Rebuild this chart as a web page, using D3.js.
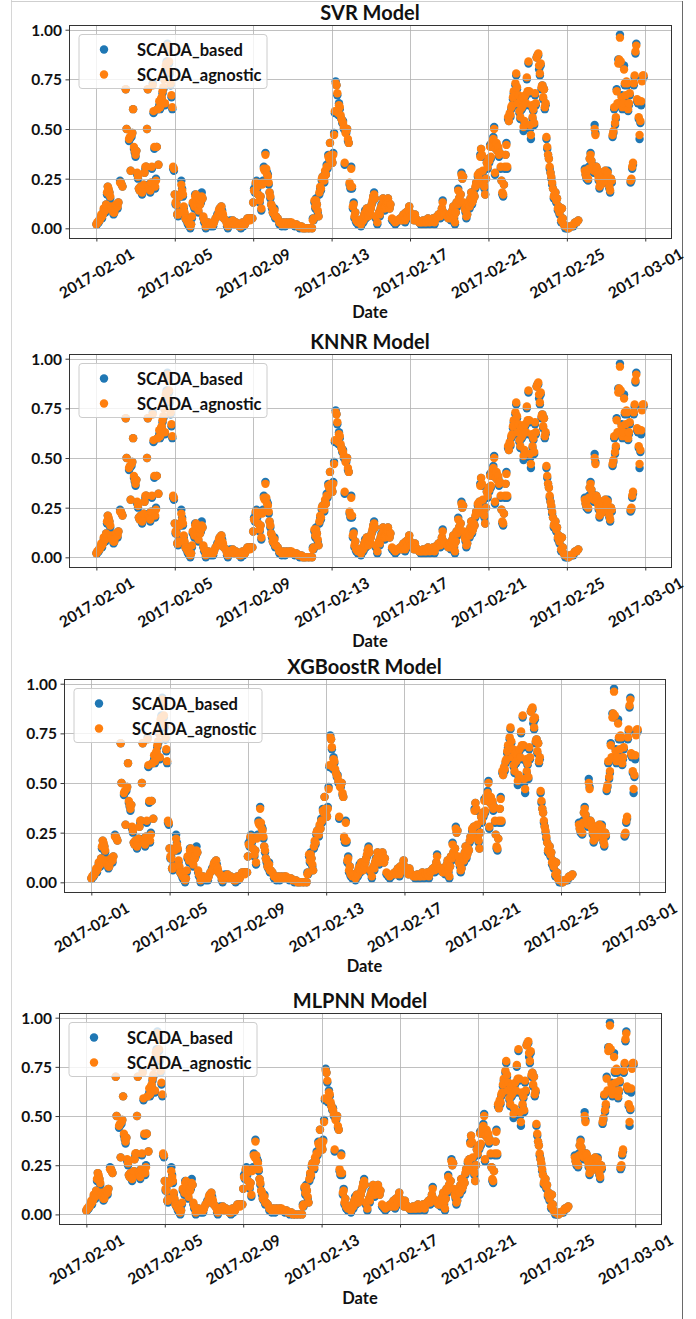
<!DOCTYPE html>
<html>
<head>
<meta charset="utf-8">
<script src="https://cdn.jsdelivr.net/npm/d3@7"></script>
<style>
  body { margin: 0; background: #fff; }
  svg { display: block; }
  text { font-family: Lato, "Open Sans", "DejaVu Sans", sans-serif; font-weight: 700; fill: #111; }
</style>
</head>
<body>
<svg id="chart" width="696" height="1319"></svg>
<script>
// ---- data ---------------------------------------------------------------
const modelTitles = ["SVR Model", "KNNR Model", "XGBoostR Model", "MLPNN Model"];
const seriesNames = ["SCADA_based", "SCADA_agnostic"];
const seriesColors = ["#1f77b4", "#ff7f0e"];
const xTickLabels = ["2017-02-01", "2017-02-05", "2017-02-09", "2017-02-13",
                     "2017-02-17", "2017-02-21", "2017-02-25", "2017-03-01"];
const yTickValues = [0, 0.25, 0.5, 0.75, 1.0];

// hourly samples, counted from 2017-02-01 00:00
const span = (a, b) => d3.range(a, b + 1);
const hours = [].concat(
  span(0, 27), [29, 30, 31, 32], [36, 37], span(40, 239),
  [241, 243, 245, 247, 249, 251, 253, 256, 260],
  span(264, 360), span(362, 586), [588, 590], span(598, 670)
);

// hours without a record in the evaluation set
const missingHours = [
  133, 136, 139, 141, 145, 147, 157, 159, 162, 165, 168, 170, 172, 174, 176, 178, 181, 183, 186, 189,
  221, 223, 226, 228, 230, 232, 234, 236, 238,
  319, 321, 323, 325, 343, 345, 363, 365, 367, 369, 371, 373, 377, 380,
  386, 388, 392, 394, 396, 398, 401, 403, 405, 409, 411, 413, 415, 418, 427, 429,
  573, 575, 577, 579, 581, 583, 585
];

const scadaBased = [
  // 0-27, 29-32
  .02,.02,.03,.03,.04,.05,.06,.05,.07,.09,.10,.08,.12,.17,.21,.19,.18,.15,.12,.10,.09,.07,.08,.10,.11,.12,.10,.13,
  .24,.23,.22,.21,
  // 36-37
  .70,.50,
  // 40-95
  .44,.45,.29,.46,.48,.60,.40,.38,.36,.39,
  .27,.25,.20,.19,.21,.20,.17,.19,.22,.28,
  .30,.31,.50,.70,.22,.21,.18,.23,.30,.73,
  .58,.40,.20,.25,.41,.60,.32,.62,.60,.63,
  .65,.68,.70,.75,.62,.80,.84,.93,.90,.83,
  .78,.72,.66,.60,.30,.29,
  // 96-191
  .17,.12,.13,.07,.06,.09,.17,.16,.24,.20,.16,.10,
  .07,.05,.04,.05,.02,.03,.01,.00,.02,.05,.12,.13,
  .10,.17,.16,.15,.10,.08,.14,.12,.13,.18,.15,.05,
  .03,.01,.00,.02,.01,.03,.02,.00,.01,.03,.02,.01,
  .03,.02,.05,.04,.07,.06,.08,.10,.07,.11,.09,.06,
  .05,.03,.04,.02,.01,.00,.00,.03,.04,.02,.03,.04,
  .01,.02,.00,.03,.01,.02,.00,.01,.02,.00,.01,.03,
  .01,.00,.02,.03,.04,.05,.04,.05,.05,.04,.05,.05,
  // 192-239
  .13,.20,.18,.22,.24,.20,.17,.23,.13,.16,.09,.23,
  .24,.31,.30,.38,.29,.28,.27,.22,.18,.15,.12,.10,
  .08,.07,.10,.05,.06,.04,.05,.03,.02,.03,.02,.01,
  .02,.03,.02,.01,.02,.03,.03,.02,.01,.03,.02,.02,
  // 241-260
  .02,.01,.02,.01,.00,.01,.00,.00,.00,
  // 264-311
  .00,.05,.04,.13,.10,.15,.12,.08,.06,.17,.20,.19,
  .24,.26,.25,.23,.28,.27,.32,.30,.37,.35,.43,.36,
  .34,.33,.38,.48,.58,.74,.72,.67,.57,.63,.60,.56,
  .55,.53,.54,.50,.32,.49,.48,.50,.44,.43,.22,.20,
  // 312-360
  .31,.20,.10,.13,.05,.08,.03,.06,.02,.01,.04,.02,
  .01,.03,.05,.03,.07,.09,.05,.10,.08,.06,.10,.07,
  .10,.12,.13,.16,.18,.15,.05,.03,.02,.04,.08,.06,
  .10,.12,.11,.15,.13,.09,.11,.13,.14,.15,.12,.10,
  .12,
  // 362-383
  .04,.05,.03,.04,.02,.05,.03,.06,.04,.02,.05,.03,.04,.06,.07,.05,.03,.08,.04,.06,.09,.11,
  // 384-455
  .08,.05,.03,.06,.02,.04,.07,.05,.03,.04,.02,.03,.04,.02,.03,.02,.04,.03,.02,.03,.02,.03,.05,.03,
  .02,.03,.04,.02,.05,.03,.02,.04,.05,.06,.03,.07,.07,.05,.08,.10,.14,.08,.06,.05,.07,.09,.06,.05,
  .05,.07,.04,.08,.09,.11,.05,.02,.08,.13,.11,.20,.15,.13,.17,.28,.25,.26,.12,.10,.08,.05,.07,.11,
  // 456-575
  .13,.10,.15,.18,.12,.14,.17,.16,.20,.23,.22,.26,.25,.28,.37,.40,.36,.28,.22,.20,.17,.25,.33,.30,
  .35,.33,.42,.35,.43,.41,.46,.51,.27,.40,.42,.39,.40,.36,.38,.30,.24,.17,.16,.22,.30,.37,.43,.30,
  .55,.54,.57,.56,.60,.61,.65,.68,.66,.72,.77,.70,.62,.66,.58,.55,.64,.60,.65,.49,.53,.66,.62,.75,
  .68,.83,.68,.50,.45,.61,.55,.59,.52,.67,.62,.86,.87,.87,.80,.77,.82,.70,.72,.65,.70,.60,.62,.45,
  .40,.37,.35,.30,.28,.25,.22,.20,.15,.17,.18,.13,.15,.09,.11,.07,.10,.03,.10,.05,.02,.01,.00,.00,
  // 576-586, 588, 590
  .00,.01,.00,.00,.01,.00,.01,.02,.01,.02,.03,.03,.04,
  // 598-670
  .30,.27,.25,.29,.24,.31,.35,.38,.34,.32,.30,.28,
  .52,.48,.31,.29,.27,.24,.20,.23,.22,.28,.25,.27,
  .23,.29,.26,.24,.29,.23,.20,.18,.25,.23,.46,.48,
  .60,.52,.55,.70,.62,.85,.84,.975,.83,.67,.60,.62,
  .82,.72,.66,.73,.72,.59,.62,.67,.23,.24,.30,.32,
  .72,.76,.88,.93,.64,.63,.55,.45,.53,.62,.75,.76,.76
];

const scadaAgnostic = [
  // 0-27, 29-32
  .02,.03,.03,.04,.04,.05,.07,.06,.07,.10,.10,.09,.12,.18,.21,.20,.18,.16,.11,.10,.09,.08,.08,.10,.12,.12,.11,.13,
  .23,.23,.22,.21,
  // 36-37
  .70,.50,
  // 40-95
  .45,.46,.29,.47,.48,.60,.41,.39,.37,.39,
  .28,.26,.20,.19,.21,.21,.18,.19,.22,.28,
  .31,.31,.50,.70,.21,.20,.19,.23,.31,.72,
  .59,.41,.21,.24,.41,.60,.32,.64,.61,.65,
  .66,.69,.71,.75,.63,.82,.83,.92,.89,.84,
  .79,.73,.67,.61,.31,.30,
  // 96-191
  .17,.13,.12,.07,.07,.08,.16,.17,.22,.19,.17,.11,
  .08,.05,.05,.04,.03,.03,.02,.01,.02,.06,.13,.13,
  .11,.16,.17,.14,.11,.09,.13,.12,.14,.16,.15,.06,
  .04,.02,.01,.02,.02,.03,.02,.01,.02,.03,.03,.02,
  .03,.03,.05,.05,.06,.07,.09,.10,.08,.11,.08,.07,
  .05,.04,.04,.03,.02,.01,.01,.03,.03,.02,.03,.04,
  .02,.02,.01,.03,.02,.02,.01,.01,.03,.01,.02,.03,
  .02,.01,.02,.03,.04,.05,.05,.05,.04,.05,.05,.05,
  // 192-239
  .13,.19,.19,.23,.23,.21,.17,.22,.14,.16,.10,.22,
  .23,.30,.29,.37,.30,.27,.26,.23,.18,.16,.12,.11,
  .08,.08,.09,.06,.06,.05,.05,.03,.03,.03,.02,.02,
  .02,.03,.03,.02,.02,.03,.03,.02,.02,.03,.02,.03,
  // 241-260
  .02,.02,.02,.01,.01,.01,.00,.00,.00,
  // 264-311
  .00,.04,.05,.14,.11,.14,.12,.09,.06,.18,.21,.20,
  .25,.26,.25,.24,.29,.27,.31,.31,.36,.35,.43,.37,
  .35,.33,.37,.47,.59,.73,.72,.68,.58,.62,.61,.57,
  .55,.54,.53,.51,.33,.48,.49,.50,.45,.43,.23,.21,
  // 312-360
  .30,.21,.11,.12,.06,.08,.04,.06,.03,.02,.04,.03,
  .02,.03,.05,.04,.07,.08,.06,.10,.09,.06,.10,.08,
  .10,.12,.14,.16,.17,.15,.06,.04,.03,.04,.08,.07,
  .10,.11,.12,.15,.13,.10,.11,.13,.14,.15,.13,.10,
  .12,
  // 362-383
  .05,.05,.04,.04,.03,.05,.04,.06,.04,.03,.05,.04,.04,.06,.07,.05,.04,.08,.05,.06,.09,.11,
  // 384-455
  .08,.06,.04,.06,.03,.04,.07,.05,.04,.04,.03,.03,.04,.03,.03,.03,.04,.03,.03,.03,.03,.04,.05,.04,
  .03,.03,.04,.03,.05,.04,.03,.04,.05,.06,.04,.07,.07,.06,.08,.10,.13,.08,.07,.05,.07,.09,.06,.05,
  .06,.07,.05,.08,.09,.11,.06,.03,.08,.13,.12,.19,.15,.14,.17,.27,.25,.26,.13,.10,.09,.06,.07,.12,
  // 456-575
  .13,.11,.15,.18,.13,.14,.17,.16,.21,.23,.22,.27,.25,.28,.36,.40,.37,.29,.22,.21,.17,.25,.33,.31,
  .35,.34,.41,.36,.43,.42,.45,.50,.28,.40,.43,.39,.41,.37,.38,.31,.24,.18,.17,.22,.31,.37,.42,.31,
  .56,.54,.58,.57,.61,.62,.66,.69,.67,.73,.78,.71,.63,.67,.59,.56,.65,.61,.66,.51,.54,.67,.63,.76,
  .69,.84,.69,.52,.47,.62,.56,.60,.53,.68,.63,.86,.87,.88,.82,.78,.83,.71,.72,.66,.70,.61,.63,.46,
  .41,.37,.35,.31,.28,.26,.23,.20,.16,.17,.18,.14,.15,.10,.11,.08,.10,.04,.10,.05,.02,.01,.01,.00,
  // 576-586, 588, 590
  .01,.01,.00,.01,.01,.01,.01,.02,.02,.02,.03,.03,.04,
  // 598-670
  .29,.27,.26,.29,.25,.30,.35,.37,.34,.31,.30,.29,
  .50,.47,.31,.30,.27,.25,.21,.23,.22,.28,.26,.27,
  .24,.29,.26,.25,.28,.23,.21,.19,.25,.24,.47,.49,
  .61,.53,.56,.69,.63,.83,.85,.96,.84,.66,.61,.63,
  .80,.73,.67,.74,.73,.60,.63,.68,.24,.25,.31,.33,
  .73,.77,.89,.92,.65,.64,.56,.47,.54,.64,.74,.77,.77
];

if (hours.length !== scadaBased.length || hours.length !== scadaAgnostic.length) {
  throw new Error("length mismatch: " + hours.length + " / " + scadaBased.length + " / " + scadaAgnostic.length);
}

// ---- layout -------------------------------------------------------------
const panels = [
  { left: 69, top: 25,   width: 602, height: 213 },
  { left: 69, top: 354,  width: 602, height: 213 },
  { left: 64, top: 679,  width: 601, height: 213 },
  { left: 59, top: 1013, width: 602, height: 211 }
];

const t0 = Date.UTC(2017, 1, 1);
const missing = new Set(missingHours);
const records = hours
  .map((h, k) => ({ time: new Date(t0 + h * 3600e3), values: [scadaBased[k], scadaAgnostic[k]], h }))
  .filter(r => !missing.has(r.h));

const fmt = d3.utcFormat("%Y-%m-%d");
const parse = d3.utcParse("%Y-%m-%d");
const xTicks = xTickLabels.map(parse);

// matplotlib-style 5% data margins
const tExt = d3.extent(records, r => r.time);
const tPad = (tExt[1] - tExt[0]) * 0.05;
const vExt = d3.extent(records.flatMap(r => r.values));
const vPad = (vExt[1] - vExt[0]) * 0.05;

const svg = d3.select("#chart");

// page frame
svg.append("line").attr("x1", 11.5).attr("x2", 11.5).attr("y1", 0).attr("y2", 1319)
  .attr("stroke", "#d6d6d6").attr("stroke-width", 1);
svg.append("line").attr("x1", 11).attr("x2", 683).attr("y1", 1.5).attr("y2", 1.5)
  .attr("stroke", "#cfcfcf").attr("stroke-width", 1);
svg.append("line").attr("x1", 682.5).attr("x2", 682.5).attr("y1", 1).attr("y2", 1319)
  .attr("stroke", "#6a6a6a").attr("stroke-width", 1);

panels.forEach((p, i) => {
  const x = d3.scaleUtc()
    .domain([new Date(+tExt[0] - tPad), new Date(+tExt[1] + tPad)])
    .range([p.left, p.left + p.width]);
  const y = d3.scaleLinear()
    .domain([vExt[0] - vPad, vExt[1] + vPad])
    .range([p.top + p.height, p.top]);

  const g = svg.append("g");
  const bottom = p.top + p.height;
  const cx = p.left + p.width / 2;

  // points: blue first, orange on top
  seriesNames.forEach((name, s) => {
    g.append("g").selectAll("circle")
      .data(records)
      .join("circle")
      .attr("cx", r => x(r.time))
      .attr("cy", r => y(r.values[s]))
      .attr("r", 4.2)
      .attr("fill", seriesColors[s]);
  });

  // grid (drawn over the points, as matplotlib does by default)
  const grid = g.append("g").attr("stroke", "#b0b0b0").attr("stroke-width", 0.8);
  grid.selectAll(".vx").data(xTicks).join("line")
    .attr("x1", d => Math.round(x(d)) + 0.5).attr("x2", d => Math.round(x(d)) + 0.5)
    .attr("y1", p.top).attr("y2", bottom);
  grid.selectAll(".hy").data(yTickValues).join("line")
    .attr("x1", p.left).attr("x2", p.left + p.width)
    .attr("y1", d => Math.round(y(d)) + 0.5).attr("y2", d => Math.round(y(d)) + 0.5);

  // axes
  const xAxis = g.append("g").attr("transform", `translate(0,${bottom})`)
    .call(d3.axisBottom(x).tickValues(xTicks).tickSize(3.5).tickSizeOuter(0).tickFormat(() => ""));
  xAxis.select(".domain").remove();
  xAxis.selectAll(".tick line").attr("stroke", "#222").attr("stroke-width", 0.9);

  const yAxis = g.append("g").attr("transform", `translate(${p.left},0)`)
    .call(d3.axisLeft(y).tickValues(yTickValues).tickSize(3.5).tickSizeOuter(0).tickFormat(() => ""));
  yAxis.select(".domain").remove();
  yAxis.selectAll(".tick line").attr("stroke", "#222").attr("stroke-width", 0.9);

  // frame
  g.append("rect")
    .attr("x", p.left + 0.5).attr("y", p.top + 0.5)
    .attr("width", p.width).attr("height", p.height)
    .attr("fill", "none").attr("stroke", "#333").attr("stroke-width", 1);

  // tick labels
  g.append("g").selectAll("text").data(yTickValues).join("text")
    .attr("x", p.left - 7).attr("y", d => y(d))
    .attr("text-anchor", "end").attr("dominant-baseline", "central")
    .attr("font-size", 15.5)
    .text(d3.format(".2f"));

  g.append("g").selectAll("text").data(xTicks).join("text")
    .attr("transform", d => `translate(${x(d)},${bottom + 35}) rotate(-30)`)
    .attr("text-anchor", "middle").attr("dominant-baseline", "central")
    .attr("font-size", 15.5)
    .text(fmt);

  // title and axis label
  g.append("text").attr("x", cx).attr("y", p.top - 5)
    .attr("text-anchor", "middle").attr("font-size", 20)
    .text(modelTitles[i]);
  g.append("text").attr("x", cx).attr("y", bottom + 80)
    .attr("text-anchor", "middle").attr("font-size", 16.5)
    .text("Date");

  // legend
  const lg = g.append("g").attr("transform", `translate(${p.left + 10},${p.top + 9.5})`);
  lg.append("rect").attr("width", 188).attr("height", 54).attr("rx", 3)
    .attr("fill", "#fff").attr("fill-opacity", 0.8)
    .attr("stroke", "#cccccc").attr("stroke-width", 1);
  seriesNames.forEach((name, s) => {
    const ry = 15 + s * 25;
    lg.append("circle").attr("cx", 25).attr("cy", ry).attr("r", 4.2).attr("fill", seriesColors[s]);
    lg.append("text").attr("x", 58).attr("y", ry).attr("dominant-baseline", "central")
      .attr("font-size", 16.5).text(name);
  });
});
</script>
</body>
</html>
